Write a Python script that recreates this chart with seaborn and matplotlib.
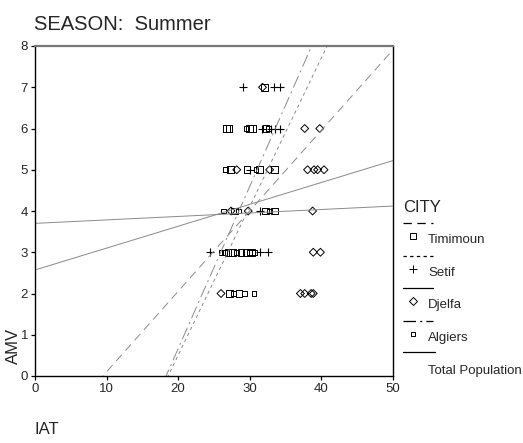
import matplotlib
matplotlib.use("Agg")
import matplotlib.pyplot as plt
import numpy as np
import pandas as pd
import seaborn as sns
from matplotlib.lines import Line2D
from matplotlib.transforms import Affine2D

# -----------------------------------------------------------------------------
# Data (IAT vs AMV, summer, per city)
# -----------------------------------------------------------------------------
timimoun_iat = [32.1, 26.8, 27.1, 30.0, 30.4, 32.3, 27.3, 29.6, 31.4, 33.5,
                27.9, 32.2, 33.5, 27.0, 27.6, 28.8, 29.5, 30.3, 27.2, 28.5]
timimoun_amv = [7, 6, 6, 6, 6, 6, 5, 5, 5, 5,
                4, 4, 4, 3, 3, 3, 3, 3, 2, 2]

setif_iat = [29.1, 33.4, 34.2, 31.8, 33.0, 33.5, 34.3, 30.0, 31.5,
             24.4, 31.5, 32.6]
setif_amv = [7, 7, 7, 6, 6, 6, 6, 5, 4, 3, 3, 3]

djelfa_iat = [31.8, 37.7, 39.8, 28.2, 32.8, 38.1, 39.0, 39.5, 40.4,
              27.4, 29.8, 38.8, 38.9, 39.9, 26.0, 37.1, 37.7, 38.6, 38.9]
djelfa_amv = [7, 6, 6, 5, 5, 5, 5, 5, 5, 4, 4, 4, 3, 3, 2, 2, 2, 2, 2]

algiers_iat = [29.5, 32.6, 26.6, 30.9, 26.3, 28.5, 32.8,
               26.0, 26.5, 28.2, 30.0, 30.7, 27.8, 29.3, 30.6]
algiers_amv = [6, 6, 5, 5, 4, 4, 4, 3, 3, 3, 3, 3, 2, 2, 2]

# fit lines (intercept, slope)
fit_names = ["Timimoun", "Setif", "Djelfa", "Algiers", "Total Population"]
fit_intercepts = [-1.85, -6.70, 3.70, -7.20, 2.57]
fit_slopes = [0.195, 0.360, 0.0084, 0.393, 0.053]

x_ticks = [0, 10, 20, 30, 40, 50]
y_ticks = [0, 1, 2, 3, 4, 5, 6, 7, 8]

# -----------------------------------------------------------------------------
# Styling
# -----------------------------------------------------------------------------
sns.set_style("ticks")
plt.rcParams["font.family"] = ["Liberation Sans", "DejaVu Sans"]
plt.rcParams["lines.scale_dashes"] = False

W, H = 523, 443
fig = plt.figure(figsize=(W / 100, H / 100), dpi=100)
ax = fig.add_axes([35 / W, 1 - 376 / H, (392.7 - 35) / W, (376 - 46) / H])

# pixel-based transform for the free-floating texts / legend
pix = Affine2D().scale(1 / W, -1 / H).translate(0, 1) + fig.transFigure

line_grey = "#8a8a8a"
dash_styles = {"Timimoun": (0, (6, 4)),
               "Setif": (0, (2.4, 2.4)),
               "Djelfa": "solid",
               "Algiers": (0, (9, 3, 1.5, 3)),
               "Total Population": "solid"}

# fit lines across the x range, clipped by the axes
xs = np.array([0.0, 50.0])
for name, a, b in zip(fit_names, fit_intercepts, fit_slopes):
    df = pd.DataFrame({"IAT": xs, "AMV": a + b * xs})
    sns.lineplot(data=df, x="IAT", y="AMV", ax=ax, color=line_grey,
                 linewidth=0.7, linestyle=dash_styles[name], sort=False)

# points
marker_specs = [
    (timimoun_iat, timimoun_amv, "s", 22, True),
    (algiers_iat, algiers_amv, "s", 12, True),
    (djelfa_iat, djelfa_amv, "D", 16, True),
    (setif_iat, setif_amv, "+", 30, False),
]
for xv, yv, mk, sz, filled in marker_specs:
    if filled:
        sns.scatterplot(x=xv, y=yv, marker=mk, s=sz, ax=ax,
                        facecolors="none", edgecolor="black", linewidth=0.7)
    else:
        sns.scatterplot(x=xv, y=yv, marker=mk, s=sz, ax=ax,
                        color="black", linewidth=0.8)

ax.set_xlim(0, 50)
ax.set_ylim(0, 8)
ax.set_xticks(x_ticks)
ax.set_yticks(y_ticks)
ax.set_xlabel("")
ax.set_ylabel("")
ax.tick_params(labelsize=9.5, length=3, width=0.9, pad=2, color="black")

for side in ["left", "bottom", "right"]:
    ax.spines[side].set_visible(True)
    ax.spines[side].set_color("black")
    ax.spines[side].set_linewidth(1.0)
ax.spines["top"].set_visible(True)
ax.spines["top"].set_color("#777777")
ax.spines["top"].set_linewidth(1.6)

# titles / axis names
fig.text(34, 24, "SEASON:  Summer", transform=pix, fontsize=14.5,
         va="center", ha="left")
fig.text(13, 346, "AMV", transform=pix, fontsize=12, rotation=90,
         va="center", ha="center")
fig.text(35, 430, "IAT", transform=pix, fontsize=12, va="center", ha="left")

# hand-built legend to the right of the plot
fig.text(403, 208, "CITY", transform=pix, fontsize=12, va="center", ha="left")
legend_rows = [
    ("Timimoun", 223, "s", 4.5),
    ("Setif", 256, "+", 5.5),
    ("Djelfa", 288, "D", 4.0),
    ("Algiers", 321, "s", 3.2),
]
for name, ly, mk, ms in legend_rows:
    fig.add_artist(Line2D([403, 433], [ly, ly], transform=pix,
                          color="black", linewidth=0.9,
                          linestyle=dash_styles[name]))
    fig.add_artist(Line2D([413], [ly + 13], transform=pix, marker=mk,
                          markersize=ms, markerfacecolor="none",
                          markeredgecolor="black", markeredgewidth=0.7,
                          color="black", linestyle="none"))
    fig.text(428, ly + 17, name, transform=pix, fontsize=9.5,
             va="center", ha="left")
fig.add_artist(Line2D([403, 435], [352, 352], transform=pix,
                      color="black", linewidth=0.9))
fig.text(428, 371, "Total Population", transform=pix, fontsize=9.5,
         va="center", ha="left")

fig.savefig("out.png", dpi=100)
